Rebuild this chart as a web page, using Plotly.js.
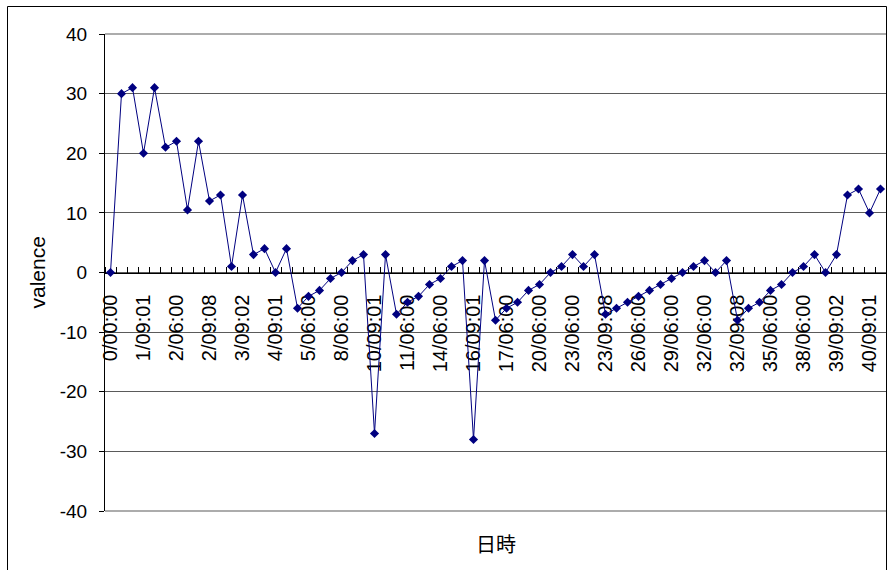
<!DOCTYPE html>
<html>
<head>
<meta charset="utf-8">
<script src="https://cdn.plot.ly/plotly-3.0.1.min.js"></script>
<style>
html,body{margin:0;padding:0;background:#fff;}
#chart{width:888px;height:570px;}
</style>
</head>
<body>
<div id="chart"></div>
<script>
// Data
const valence = [0,30,31,20,31,21,22,10.5,22,12,13,1,13,3,4,0,4,-6,-4,-3,-1,0,2,3,-27,3,-7,-5,-4,-2,-1,1,2,-28,2,-8,-6,-5,-3,-2,0,1,3,1,3,-7,-6,-5,-4,-3,-2,-1,0,1,2,0,2,-8,-6,-5,-3,-2,0,1,3,0,3,13,14,10,14];
const tickLabels = ["0/00:00","1/09:01","2/06:00","2/09:08","3/09:02","4/09:01","5/06:00","8/06:00","10/09:01","11/06:00","14/06:00","16/09:01","17/06:00","20/06:00","23/06:00","23/09:08","26/06:00","29/06:00","32/06:00","32/09:08","35/06:00","38/06:00","39/09:02","40/09:01"];
const labelStep = 3;
const yTicks = [-40,-30,-20,-10,0,10,20,30,40];
const xTitle = "日時";
const yTitle = "valence";

const n = valence.length;
const xIdx = valence.map((_, i) => i);
const tickVals = tickLabels.map((_, k) => k * labelStep);
const boundaries = [];
for (let i = 0; i <= n; i++) boundaries.push(i - 0.5);

const font = "Liberation Sans, Arial, sans-serif";
const W = 888, H = 570, L = 105, R = 2, T = 34, B = 59;
const pw = W - L - R, ph = H - T - B;
const px = v => (v - L) / pw;
const py = v => (H - B - v) / ph;

const trace = {
  x: xIdx, y: valence, type: "scatter", mode: "lines+markers",
  line: {color: "#000080", width: 1},
  marker: {symbol: "diamond", size: 7, color: "#000080"},
  hoverinfo: "y", cliponaxis: false
};

const layout = {
  width: W, height: H,
  margin: {l: L, r: R, t: T, b: B},
  paper_bgcolor: "#fff", plot_bgcolor: "#fff",
  showlegend: false,
  font: {family: font, color: "#000", size: 18},
  xaxis: {
    range: [-0.5, n - 0.5], anchor: "free", position: 0.5,
    tickmode: "array", tickvals: tickVals, ticktext: tickLabels,
    tickangle: -90, ticks: "", showgrid: false, zeroline: false,
    showline: true, linecolor: "#000", linewidth: 1,
    tickfont: {family: font, size: 20, color: "#000"},
    ticklabelstandoff: 13, layer: "below traces",
    minor: {tickmode: "array", tickvals: boundaries, ticks: "inside", ticklen: 6, tickcolor: "#000", tickwidth: 1, showgrid: false}
  },
  yaxis: {
    range: [-40, 40], tickmode: "array", tickvals: yTicks,
    ticktext: yTicks.map(v => String(v)),
    showgrid: true, gridcolor: "#5a5a5a", gridwidth: 1.2, zeroline: false,
    showline: true, linecolor: "#000", linewidth: 1,
    ticks: "outside", ticklen: 5, tickcolor: "#000",
    tickfont: {family: font, size: 19, color: "#000"},
    ticklabelstandoff: 8
  },
  shapes: [
    {type: "line", xref: "paper", yref: "paper", x0: 0, x1: 1, y0: 1, y1: 1, line: {color: "#5a5a5a", width: 1.2}},
    {type: "line", xref: "paper", yref: "paper", x0: 0, x1: 1, y0: 0, y1: 0, line: {color: "#5a5a5a", width: 1.2}},
    {type: "rect", xref: "paper", yref: "paper", x0: px(7.5), x1: px(886.5), y0: py(590), y1: py(6.5), line: {color: "#000", width: 1}, fillcolor: "rgba(0,0,0,0)"}
  ],
  annotations: [
    {text: yTitle, xref: "paper", yref: "paper", x: px(37), y: 0.5, textangle: -90, showarrow: false, xanchor: "center", yanchor: "middle", font: {family: font, size: 21, color: "#000"}},
    {text: xTitle, xref: "paper", yref: "paper", x: 0.5, y: py(543), showarrow: false, xanchor: "center", yanchor: "middle", font: {family: "Noto Sans CJK JP, sans-serif", size: 20, color: "#000"}}
  ]
};

Plotly.newPlot("chart", [trace], layout, {displayModeBar: false, staticPlot: true});
</script>
</body>
</html>
